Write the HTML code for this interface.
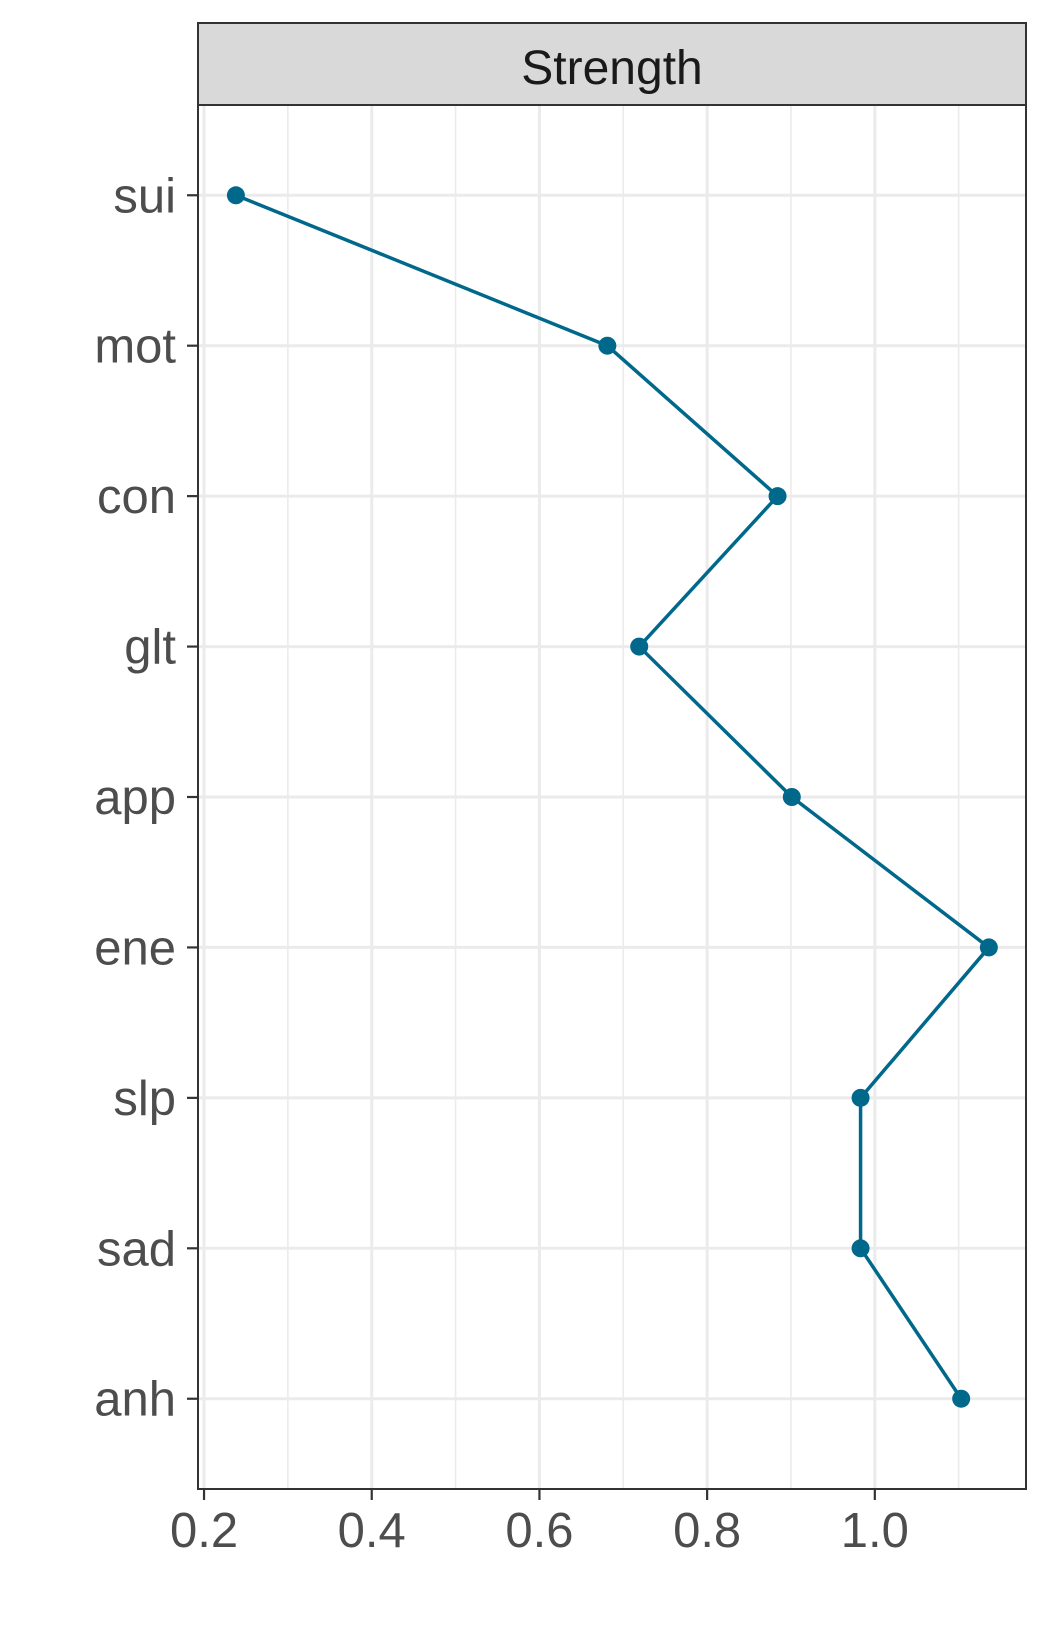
<!DOCTYPE html>
<html><head><meta charset="utf-8"><style>
html,body{margin:0;padding:0;background:#fff;}
svg{display:block;font-family:"Liberation Sans",Arial,sans-serif;}
</style></head><body>
<svg id="chart" width="1050" height="1650" viewBox="0 0 1050 1650" xmlns="http://www.w3.org/2000/svg"></svg>
<script>
const categories = ["sui","mot","con","glt","app","ene","slp","sad","anh"];
const strengthValues = [0.238,0.681,0.884,0.719,0.901,1.136,0.983,0.983,1.103];
const xTicks = [0.2,0.4,0.6,0.8,1.0];
const xTickLabels = ["0.2","0.4","0.6","0.8","1.0"];
const xMinor = [0.3,0.5,0.7,0.9,1.1];

const svg = document.getElementById('chart');
const NS = 'http://www.w3.org/2000/svg';
const P = {l:198, r:1026, t:105, b:1489};
const xMin = 0.1928, xMax = 1.1803;
function xs(v){ return P.l + (v - xMin) / (xMax - xMin) * (P.r - P.l); }
function ys(i){ const n = categories.length; const step = (P.b - P.t) / (n - 1 + 1.2); return P.t + 0.6*step + i*step; }
function mk(tag, attrs){ const e = document.createElementNS(NS, tag); for (const k in attrs) e.setAttribute(k, attrs[k]); svg.appendChild(e); return e; }

let strip = mk('rect',{x:P.l,y:23,width:P.r-P.l,height:P.t-23,fill:'#D9D9D9',stroke:'#333333','stroke-width':2});


let st = mk('text',{x:(P.l+P.r)/2,y:84,'text-anchor':'middle','font-size':48,fill:'#1A1A1A'});
st.textContent = 'Strength';



xMinor.forEach(v=>{
  const g = mk('line',{x1:xs(v),x2:xs(v),y1:P.t,y2:P.b,stroke:'#EBEBEB','stroke-width':1.6});
  
  
});
xTicks.forEach(v=>{
  const g = mk('line',{x1:xs(v),x2:xs(v),y1:P.t,y2:P.b,stroke:'#EBEBEB','stroke-width':3});
  
  
});
categories.forEach((c,i)=>{
  const g = mk('line',{x1:P.l,x2:P.r,y1:ys(i),y2:ys(i),stroke:'#EBEBEB','stroke-width':3});
  
  
});

const pts = strengthValues.map((v,i)=>xs(v)+','+ys(i)).join(' ');
let pl = mk('polyline',{points:pts,fill:'none',stroke:'#00688B','stroke-width':3.5,'stroke-linejoin':'round'});


strengthValues.forEach((v,i)=>{
  const c = mk('circle',{cx:xs(v),cy:ys(i),r:9,fill:'#00688B'});
  
  
});

let pb = mk('rect',{x:P.l,y:P.t,width:P.r-P.l,height:P.b-P.t,fill:'none',stroke:'#333333','stroke-width':2});



categories.forEach((c,i)=>{
  const t = mk('line',{x1:P.l-11,x2:P.l,y1:ys(i),y2:ys(i),stroke:'#333333','stroke-width':2.2});
  
  
  const tx = mk('text',{x:P.l-22,y:ys(i)+17,'text-anchor':'end','font-size':49,fill:'#4D4D4D'});
  tx.textContent = c;
  
  
});
xTicks.forEach((v,i)=>{
  const t = mk('line',{x1:xs(v),x2:xs(v),y1:P.b,y2:P.b+11,stroke:'#333333','stroke-width':2.2});
  
  
  const tx = mk('text',{x:xs(v),y:1547,'text-anchor':'middle','font-size':49,fill:'#4D4D4D'});
  tx.textContent = xTickLabels[i];
  
  
});
</script>
</body></html>
